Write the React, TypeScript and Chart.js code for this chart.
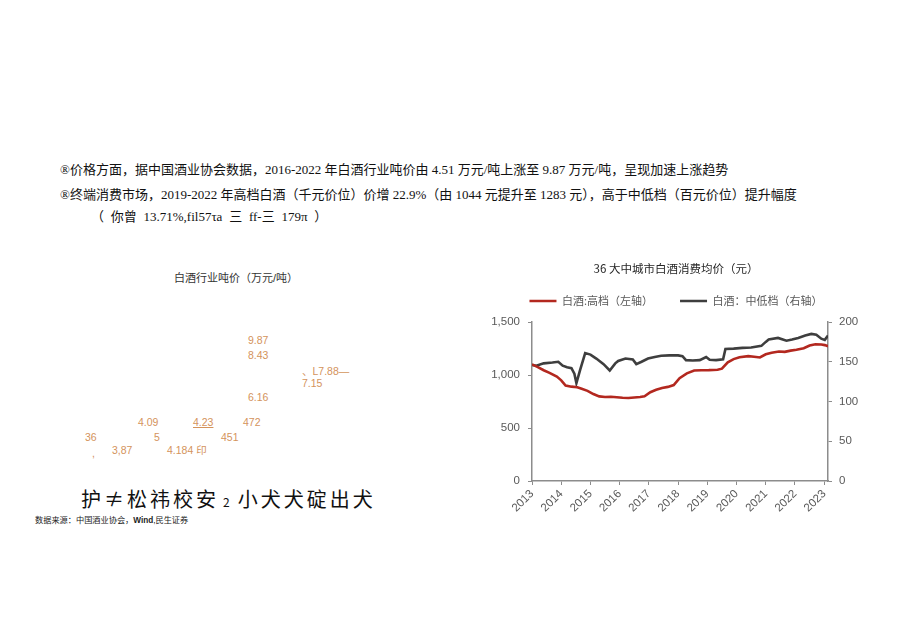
import React, { useEffect, useRef } from "react";
import { Chart, registerables } from "chart.js";

Chart.register(...registerables);

// ---------- text content ----------
const introLines = [
  "®价格方面，据中国酒业协会数据，2016-2022 年白酒行业吨价由 4.51 万元/吨上涨至 9.87 万元/吨，呈现加速上涨趋势",
  "®终端消费市场，2019-2022 年高档白酒（千元价位）价增 22.9%（由 1044 元提升至 1283 元），高于中低档（百元价位）提升幅度",
  "（ 你曾 13.71%,fil57τa 三 ff-三 179π ）",
];
const leftTitle = "白酒行业吨价（万元/吨）";
const leftLabelTexts = ["9.87", "8.43", "、L7.88—", "7.15", "6.16", "4.09", "4.23", "472", "36", "5", "451", ",", "3,87", "4.184 印"];
const bigCaptionA = "护≠松祎校安";
const bigCaptionNum = "2";
const bigCaptionB = "小犬犬碇出犬";
const sourceText = "数据来源：中国酒业协会，";
const sourceBold = "Wind";
const sourceTail = ",民生证券";

// ---------- right chart data ----------
const rightTitle = "36 大中城市白酒消费均价（元）";
const seriesNames = ["白酒:高档（左轴）", "白酒：中低档（右轴）"];

const highDates = [
  2013.0, 2013.2, 2013.4, 2013.6, 2013.85, 2014.0, 2014.15, 2014.35, 2014.55, 2014.7,
  2014.9, 2015.1, 2015.3, 2015.5, 2015.7, 2015.9, 2016.1, 2016.3, 2016.5, 2016.7,
  2016.85, 2017.05, 2017.25, 2017.45, 2017.65, 2017.85, 2018.05, 2018.3, 2018.55, 2018.8,
  2019.05, 2019.35, 2019.5, 2019.7, 2019.9, 2020.1, 2020.4, 2020.6, 2020.8, 2021.0,
  2021.2, 2021.45, 2021.65, 2021.85, 2022.05, 2022.3, 2022.5, 2022.7, 2022.9, 2023.02, 2023.13,
];
const highValues = [
  1100, 1075, 1045, 1020, 985, 950, 900, 890, 885, 870,
  850, 820, 798, 793, 795, 790, 785, 783, 788, 792,
  800, 838, 860, 878, 888, 905, 970, 1015, 1042, 1045,
  1046, 1050, 1060, 1120, 1150, 1168, 1178, 1172, 1165, 1195,
  1210, 1222, 1218, 1230, 1238, 1252, 1278, 1290, 1288, 1282, 1272,
];

const lowDates = [
  2013.0, 2013.15, 2013.4, 2013.7, 2013.9, 2014.05, 2014.2, 2014.35, 2014.45, 2014.52,
  2014.65, 2014.82, 2015.0, 2015.2, 2015.45, 2015.66, 2015.85, 2015.95, 2016.2, 2016.45,
  2016.57, 2016.75, 2016.97, 2017.2, 2017.42, 2017.7, 2018.0, 2018.15, 2018.27, 2018.5,
  2018.74, 2018.96, 2019.08, 2019.3, 2019.54, 2019.62, 2019.9, 2020.2, 2020.5, 2020.85,
  2021.0, 2021.1, 2021.42, 2021.71, 2021.9, 2022.11, 2022.35, 2022.56, 2022.73, 2022.9, 2023.02, 2023.13,
];
const lowValues = [
  146, 145, 148, 149, 150, 145, 143, 142, 135, 123,
  140, 161, 159, 154, 147, 139, 148, 151, 154, 153,
  147, 150, 154, 156, 157.5, 158, 158, 157, 152, 151.5,
  152, 156, 152.5, 152, 153, 166, 166.5, 167.5, 168, 170,
  175, 178, 180, 176.5, 178, 180, 183, 185, 184, 179, 177.5, 183,
];

const leftTicks = { min: 0, max: 1500, step: 500 };
const rightTicks = { min: 0, max: 200, step: 50 };
const xRange = { min: 2013, max: 2023.13 };

// ---------- layout (positions only) ----------
const leftLabelPos: [number, number][] = [
  [248, 340], [248, 355], [302, 371], [302, 383], [248, 397],
  [138, 422], [193, 422], [243, 422], [85, 437], [154, 437], [221, 437],
  [92, 453], [112, 450], [167, 450],
];

const HIGH_COLOR = "#b3281f";
const LOW_COLOR = "#3e3e3e";
const AXIS_COLOR = "#8c8c8c";
const TICK_TEXT = "#595959";

// adds a little space between the legend row and the plot area
const legendGap = {
  id: "legendGap",
  beforeLayout(chart: any) {
    const lg = chart.legend;
    if (lg && !lg.__gapPatched) {
      const orig = lg.fit;
      lg.fit = function (this: any) {
        orig.call(this);
        this.height += 5.5;
      };
      lg.__gapPatched = true;
    }
  },
};

function RightChart() {
  const ref = useRef<HTMLCanvasElement | null>(null);
  useEffect(() => {
    if (!ref.current) return;
    const chart = new Chart(ref.current, {
      type: "line",
      data: {
        datasets: [
          {
            label: seriesNames[0],
            data: highDates.map((d, i) => ({ x: d, y: highValues[i] })),
            borderColor: HIGH_COLOR,
            backgroundColor: HIGH_COLOR,
            borderWidth: 2.6,
            pointRadius: 0,
            tension: 0,
            yAxisID: "y",
          },
          {
            label: seriesNames[1],
            data: lowDates.map((d, i) => ({ x: d, y: lowValues[i] })),
            borderColor: LOW_COLOR,
            backgroundColor: LOW_COLOR,
            borderWidth: 2.6,
            pointRadius: 0,
            tension: 0,
            yAxisID: "y1",
          },
        ],
      },
      plugins: [legendGap],
      options: {
        responsive: false,
        animation: false,
        layout: { padding: 0 },
        plugins: {
          title: {
            display: true,
            text: rightTitle,
            color: "#262626",
            font: { family: "'Noto Sans CJK SC', sans-serif", size: 11.5, weight: "normal" },
            padding: { top: 10.1, bottom: -7.4 },
          },
          legend: {
            display: true,
            labels: {
              usePointStyle: true,
              pointStyle: "line",
              pointStyleWidth: 27,
              color: TICK_TEXT,
              padding: 27,
              font: { family: "'Noto Sans CJK SC', sans-serif", size: 11 },
            },
          },
          tooltip: { enabled: false },
        },
        scales: {
          x: {
            type: "linear",
            min: xRange.min,
            max: xRange.max,
            bounds: "data",
            border: { display: true, color: AXIS_COLOR, width: 1.5 },
            grid: { drawOnChartArea: false, drawTicks: true, tickLength: 4, color: AXIS_COLOR },
            ticks: {
              stepSize: 1,
              includeBounds: false,
              minRotation: 45,
              maxRotation: 45,
              padding: 2,
              color: TICK_TEXT,
              font: { family: "'Liberation Sans', sans-serif", size: 11.5 },
              callback: (v: any) => String(v),
            },
            afterFit: (s: any) => {
              s.height = 61;
            },
          },
          y: {
            type: "linear",
            position: "left",
            min: leftTicks.min,
            max: leftTicks.max,
            border: { display: true, color: AXIS_COLOR, width: 1.5 },
            grid: { drawOnChartArea: false, drawTicks: true, tickLength: 4, color: AXIS_COLOR },
            ticks: {
              stepSize: leftTicks.step,
              padding: 8,
              color: TICK_TEXT,
              font: { family: "'Liberation Sans', sans-serif", size: 11.5 },
            },
            afterFit: (s: any) => {
              s.width = 62;
            },
          },
          y1: {
            type: "linear",
            position: "right",
            min: rightTicks.min,
            max: rightTicks.max,
            border: { display: true, color: AXIS_COLOR, width: 1.5 },
            grid: { drawOnChartArea: false, drawTicks: true, tickLength: 4, color: AXIS_COLOR },
            ticks: {
              stepSize: rightTicks.step,
              padding: 7,
              color: TICK_TEXT,
              font: { family: "'Liberation Sans', sans-serif", size: 11.5 },
            },
            afterFit: (s: any) => {
              s.width = 54;
            },
          },
        },
      },
    } as any);
    return () => chart.destroy();
  }, []);
  return (
    <canvas
      ref={ref}
      width={412}
      height={290}
      style={{ position: "absolute", left: 470, top: 252, width: 412, height: 290 }}
    />
  );
}

export default function App() {
  const serifCJK = "'Liberation Serif', 'Noto Sans CJK SC', serif";
  const sansCJK = "'Liberation Sans', 'Noto Sans CJK SC', sans-serif";
  return (
    <div
      style={{
        position: "absolute",
        left: 0,
        top: 0,
        width: 920,
        height: 626,
        overflow: "hidden",
        background: "#ffffff",
        color: "#111",
      }}
    >
      {introLines.map((t, i) => (
        <div
          key={i}
          style={{
            position: "absolute",
            left: i === 2 ? 91 : 60,
            top: [170, 195, 217][i] - 9,
            height: 18,
            lineHeight: "18px",
            fontSize: 13,
            fontFamily: serifCJK,
            whiteSpace: "pre",
            wordSpacing: i === 2 ? 3.5 : 0,
          }}
        >
          {t}
        </div>
      ))}

      <div
        style={{
          position: "absolute",
          left: 136,
          width: 200,
          top: 270,
          height: 16,
          lineHeight: "16px",
          textAlign: "center",
          fontSize: 11,
          color: "#333",
          fontFamily: sansCJK,
          whiteSpace: "nowrap",
        }}
      >
        {leftTitle}
      </div>

      {leftLabelTexts.map((t, i) => (
        <div
          key={"l" + i}
          style={{
            position: "absolute",
            left: leftLabelPos[i][0],
            top: leftLabelPos[i][1] - 7,
            height: 14,
            lineHeight: "14px",
            fontSize: 10.5,
            color: "#d4935c",
            fontFamily: sansCJK,
            whiteSpace: "nowrap",
            textDecoration: t === "4.23" ? "underline" : "none",
          }}
        >
          {t}
        </div>
      ))}

      <div
        style={{
          position: "absolute",
          left: 81,
          top: 486,
          height: 26,
          lineHeight: "26px",
          fontSize: 20,
          letterSpacing: 3,
          color: "#111",
          fontFamily: "'Noto Sans CJK SC', serif",
          whiteSpace: "nowrap",
        }}
      >
        {bigCaptionA}
        <span style={{ fontSize: 12, margin: "0 5px 0 4px" }}>{bigCaptionNum}</span>
        {bigCaptionB}
      </div>

      <div
        style={{
          position: "absolute",
          left: 35,
          top: 515,
          height: 12,
          lineHeight: "12px",
          fontSize: 8.2,
          color: "#222",
          fontFamily: sansCJK,
          whiteSpace: "nowrap",
        }}
      >
        {sourceText}
        <b>{sourceBold}</b>
        {sourceTail}
      </div>

      <RightChart />
    </div>
  );
}
